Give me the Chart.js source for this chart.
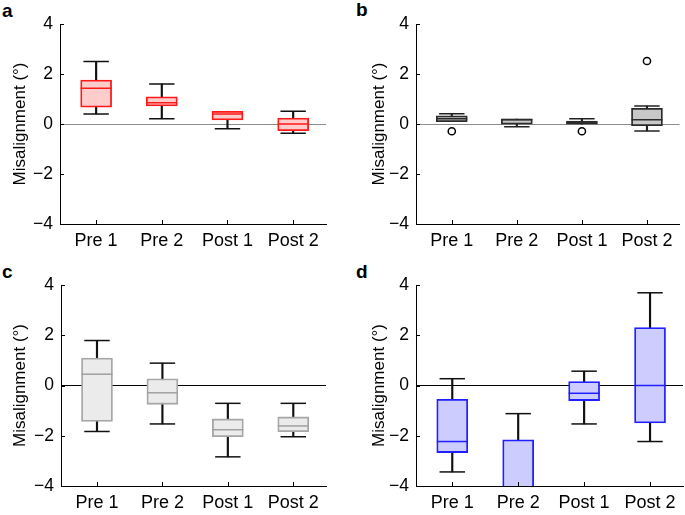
<!DOCTYPE html>
<html>
<head>
<meta charset="utf-8">
<script src="https://cdn.jsdelivr.net/npm/chart.js@4"></script>
<style>
  html, body { margin: 0; padding: 0; background: #fff; overflow: hidden; }
  body { width: 685px; height: 515px; position: relative; font-family: "Liberation Sans", Arial, sans-serif; }
  canvas { position: absolute; }
  .tag { position: absolute; font: bold 19px "Liberation Sans", Arial, sans-serif; line-height: 19px; }
</style>
</head>
<body>
<div class="tag" style="left:2px;top:1px">a</div>
<div class="tag" style="left:356px;top:0px">b</div>
<div class="tag" style="left:2px;top:262px">c</div>
<div class="tag" style="left:356px;top:262px">d</div>
<canvas id="pa"></canvas>
<canvas id="pb"></canvas>
<canvas id="pc"></canvas>
<canvas id="pd"></canvas>
<script>
const categories = ["Pre 1", "Pre 2", "Post 1", "Post 2"];
const yTicks = [-4, -2, 0, 2, 4];

// panel a
const aHigh = [2.5, 1.6, 0.51, 0.51];
const aQ3 = [1.76, 1.09, 0.51, 0.24];
const aMed = [1.43, 0.85, 0.4, 0.0];
const aQ1 = [0.67, 0.72, 0.16, -0.27];
const aLow = [0.4, 0.21, -0.19, -0.37];

// panel b
const bHigh = [0.41, 0.2, 0.21, 0.72];
const bQ3 = [0.33, 0.2, 0.12, 0.63];
const bMed = [0.21, 0.18, 0.05, 0.17];
const bQ1 = [0.09, -0.01, -0.01, -0.07];
const bLow = [0.09, -0.11, -0.01, -0.28];
const bOutX = [1, 3, 4];
const bOutY = [-0.29, -0.29, 2.52];

// panel c
const cHigh = [1.79, 0.89, -0.71, -0.71];
const cQ3 = [1.09, 0.27, -1.33, -1.25];
const cMed = [0.45, -0.29, -1.76, -1.61];
const cQ1 = [-1.43, -0.75, -2.04, -1.84];
const cLow = [-1.83, -1.53, -2.84, -2.04];

// panel d (Pre 2 runs off the bottom of the axis)
const dHigh = [0.27, -1.12, 0.57, 3.69];
const dQ3 = [-0.55, -2.16, 0.16, 2.31];
const dMed = [-2.23, -4.4, -0.31, 0.0];
const dQ1 = [-2.67, -5.0, -0.6, -1.49];
const dLow = [-3.44, -5.6, -1.53, -2.23];

const FONT = "'Liberation Sans', Arial, sans-serif";

// medians, whisker caps and inward tick marks
const boxExtras = {
  id: "boxExtras",
  afterDatasetsDraw(chart) {
    const o = chart.options.plugins.boxExtras;
    const ctx = chart.ctx;
    const area = chart.chartArea;
    const y = chart.scales.y;
    const boxes = chart.getDatasetMeta(1).data;
    ctx.save();
    ctx.beginPath();
    ctx.rect(area.left, area.top, area.right - area.left, area.bottom - area.top);
    ctx.clip();
    boxes.forEach((bar, i) => {
      const half = bar.width / 2;
      ctx.lineWidth = 1.5;
      ctx.strokeStyle = o.medianColor;
      const ym = y.getPixelForValue(o.med[i]);
      ctx.beginPath();
      ctx.moveTo(bar.x - half, ym);
      ctx.lineTo(bar.x + half, ym);
      ctx.stroke();
      ctx.strokeStyle = o.whiskerColor;
      const cap = half * 0.82;
      [[o.low[i], o.q1[i]], [o.high[i], o.q3[i]]].forEach(([v, edge]) => {
        if (v === edge) return;
        const yp = y.getPixelForValue(v);
        ctx.beginPath();
        ctx.moveTo(bar.x - cap, yp);
        ctx.lineTo(bar.x + cap, yp);
        ctx.stroke();
      });
    });
    ctx.restore();
  },
  afterDraw(chart) {
    const ctx = chart.ctx;
    const x = chart.scales.x, y = chart.scales.y;
    const area = chart.chartArea;
    ctx.save();
    ctx.strokeStyle = "#000";
    ctx.lineWidth = 1;
    x.ticks.forEach(t => {
      const px = Math.round(x.getPixelForValue(t.value)) + 0.5;
      ctx.beginPath();
      ctx.moveTo(px, area.bottom);
      ctx.lineTo(px, area.bottom - 4);
      ctx.stroke();
    });
    y.ticks.forEach(t => {
      const py = Math.round(y.getPixelForValue(t.value)) + 0.5;
      ctx.beginPath();
      ctx.moveTo(area.left, py);
      ctx.lineTo(area.left + 4, py);
      ctx.stroke();
    });
    ctx.restore();
  }
};

function makePanel(id, pos, d) {
  const el = document.getElementById(id);
  el.width = pos.w; el.height = pos.h;
  el.style.left = pos.left + "px"; el.style.top = pos.top + "px";
  el.style.width = pos.w + "px"; el.style.height = pos.h + "px";
  const xs = categories.map((c, i) => i + 1);
  const datasets = [
    {
      type: "bar", order: 2, grouped: false,
      data: xs.map((x, i) => ({ x: x, y: [d.low[i], d.high[i]] })),
      backgroundColor: d.whiskerColor, borderWidth: 0, barThickness: 1.5
    },
    {
      type: "bar", order: 1, grouped: false,
      data: xs.map((x, i) => ({ x: x, y: [d.q1[i], d.q3[i]] })),
      backgroundColor: d.fill, borderColor: d.stroke, borderWidth: 1.8,
      borderSkipped: false, barThickness: 31
    }
  ];
  if (d.outX) {
    datasets.push({
      type: "scatter", order: 0,
      data: d.outX.map((x, i) => ({ x: x, y: d.outY[i] })),
      pointRadius: 3.6, pointBackgroundColor: "#fff",
      pointBorderColor: "#000", pointBorderWidth: 1.5
    });
  }
  return new Chart(el, {
    type: "bar",
    data: { datasets },
    plugins: [boxExtras],
    options: {
      responsive: false,
      animation: false,
      layout: { padding: { top: pos.padTop, right: pos.padRight, left: 0, bottom: 0 } },
      plugins: {
        legend: { display: false },
        tooltip: { enabled: false },
        boxExtras: d
      },
      scales: {
        x: {
          type: "linear", min: 0.45, max: 4.5, offset: false,
          afterBuildTicks: s => { s.ticks = xs.map(v => ({ value: v })); },
          afterFit: s => { s.height = pos.xH; },
          grid: { display: false, offset: false },
          border: { display: true, color: "#000", width: 1 },
          ticks: {
            autoSkip: false, maxRotation: 0, padding: -2, color: "#000",
            font: { family: FONT, size: 18 },
            callback: v => categories[Math.round(v) - 1]
          }
        },
        y: {
          min: -4, max: 4,
          afterBuildTicks: s => { s.ticks = yTicks.map(v => ({ value: v })); },
          afterFit: s => { s.width = pos.yW; },
          grid: {
            drawTicks: false,
            color: c => (c.tick && c.tick.value === 0) ? d.zeroColor : "rgba(0,0,0,0)",
            lineWidth: 1
          },
          border: { display: true, color: "#000", width: 1 },
          ticks: {
            padding: 7, color: "#000",
            font: { family: FONT, size: 17.5 },
            callback: v => (v < 0 ? "\u2212" + Math.abs(v) : String(v))
          },
          title: {
            display: true, text: "Misalignment (\u00b0)", color: "#000",
            font: { family: FONT, size: 17 },
            padding: { top: 10, bottom: 0 }
          }
        }
      }
    }
  });
}

makePanel("pa", { left: 0, top: 0, w: 342, h: 257, yW: 60, padTop: 24, padRight: 16, xH: 33 }, {
  high: aHigh, q3: aQ3, med: aMed, q1: aQ1, low: aLow,
  fill: "#ffcccc", stroke: "#ff1a1a", medianColor: "#ff1a1a", whiskerColor: "#111", zeroColor: "#8c8c8c"
});
makePanel("pb", { left: 359, top: 0, w: 326, h: 257, yW: 57, padTop: 24, padRight: 2, xH: 33 }, {
  high: bHigh, q3: bQ3, med: bMed, q1: bQ1, low: bLow, outX: bOutX, outY: bOutY,
  fill: "#c8c8c8", stroke: "#2b2b2b", medianColor: "#2b2b2b", whiskerColor: "#222", zeroColor: "#8c8c8c"
});
makePanel("pc", { left: 0, top: 258, w: 342, h: 257, yW: 61, padTop: 27, padRight: 16, xH: 29 }, {
  high: cHigh, q3: cQ3, med: cMed, q1: cQ1, low: cLow,
  fill: "#ebebeb", stroke: "#a6a6a6", medianColor: "#a0a0a0", whiskerColor: "#111", zeroColor: "#000"
});
makePanel("pd", { left: 359, top: 258, w: 326, h: 257, yW: 57, padTop: 27, padRight: 2, xH: 29 }, {
  high: dHigh, q3: dQ3, med: dMed, q1: dQ1, low: dLow,
  fill: "#ccccff", stroke: "#1f1fff", medianColor: "#1f1fff", whiskerColor: "#111", zeroColor: "#000"
});
</script>
</body>
</html>
